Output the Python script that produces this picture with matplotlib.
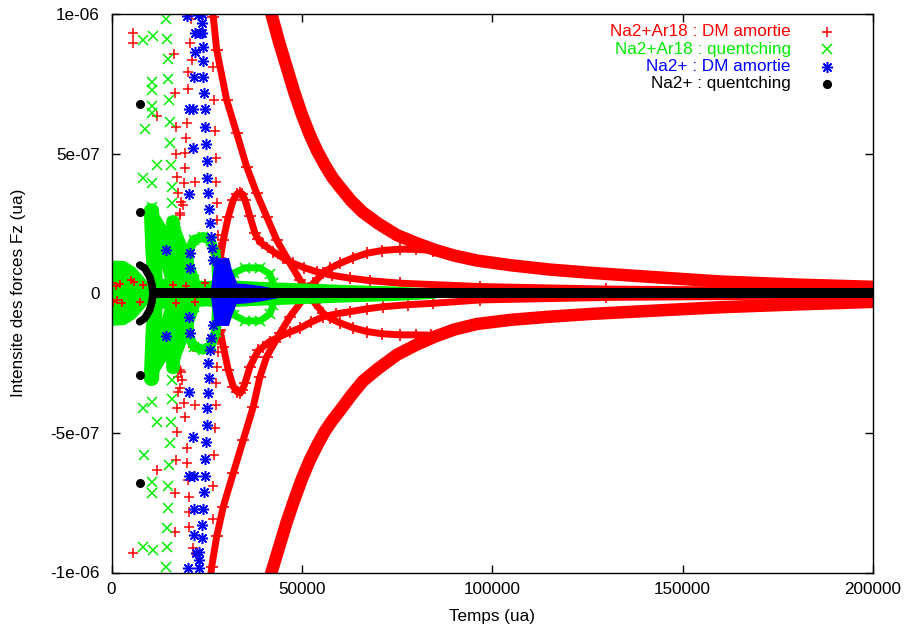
import numpy as np
import matplotlib.pyplot as plt
from matplotlib.ticker import FuncFormatter

plt.rcParams['font.family'] = ['Liberation Sans', 'DejaVu Sans']
plt.rcParams['font.size'] = 12.3

FZ = 1e-7  # force values below are given in units of 1e-7 ua

RED, GREEN, BLUE, BLACK = '#ff0000', '#00ee00', '#0000ff', '#000000'
ASTER = (8, 2, 0)  # gnuplot-like asterisk

# ---------------- Na2+Ar18 : DM amortie ----------------
# outer decaying branches (upper / lower)
ar_dm_outer_t = [41300, 42000, 44000, 46000, 48000, 50000, 52000, 54000, 56000, 58000,
                 60000, 63000, 66000, 70000, 75000, 80000, 85000, 90000, 96000, 105000,
                 115000, 126000, 140000, 160000, 180000, 200000]
ar_dm_outer_up = [10.4, 10.0, 9.0, 8.1, 7.2, 6.4, 5.7, 5.1, 4.6, 4.15,
                  3.8, 3.3, 2.9, 2.5, 2.08, 1.8, 1.55, 1.35, 1.17, 1.0,
                  0.85, 0.73, 0.6, 0.42, 0.31, 0.23]
ar_dm_outer_dn = [-10.4, -10.0, -9.1, -8.2, -7.4, -6.65, -6.0, -5.45, -4.95, -4.55,
                  -4.2, -3.65, -3.15, -2.7, -2.2, -1.85, -1.55, -1.3, -1.1, -0.95,
                  -0.84, -0.74, -0.64, -0.5, -0.4, -0.31]

# branch falling from the top and crossing zero
ar_dm_fall_t = [26400, 26730, 27630, 30250, 32880, 35500, 38130, 40760, 43380, 46880,
                49500, 51260, 53440, 55620, 57500, 60000, 63500, 67020, 71000, 75760,
                80000, 84000]
ar_dm_fall_v = [10.45, 9.90, 8.71, 6.92, 5.73, 4.53, 3.58, 2.74, 1.91, 1.07,
                0.48, 0.12, -0.36, -0.72, -0.90, -1.06, -1.24, -1.37, -1.45, -1.49,
                -1.49, -1.50]

# branch rising from the bottom and crossing zero
ar_dm_rise_t = [25840, 26310, 27630, 29360, 31980, 34610, 37240, 39000, 40760, 44250,
                46880, 49500, 51260, 52990, 55620, 57500, 60000, 63500, 67020, 71000,
                75760, 80000, 84510]
ar_dm_rise_v = [-10.4, -9.79, -8.71, -7.64, -6.44, -5.25, -4.06, -2.99, -2.27, -1.43,
                -0.84, -0.36, -0.06, 0.36, 0.72, 0.90, 1.07, 1.27, 1.43, 1.53,
                1.58, 1.57, 1.53]

# bump above zero and trough below zero
ar_dm_bump_t = [28490, 29360, 30670, 31980, 32900, 33740, 34400, 35060, 36370, 37680,
                38500, 39440, 42490, 45000, 47740, 50500, 53890, 58000, 62630, 68000,
                75760, 96770, 130000, 200000]
ar_dm_bump_v = [1.18, 1.91, 2.74, 3.34, 3.55, 3.60, 3.55, 3.34, 2.75, 2.15,
                1.95, 1.79, 1.49, 1.27, 1.07, 0.92, 0.77, 0.64, 0.54, 0.45,
                0.36, 0.24, 0.15, 0.08]
ar_dm_trough_t = [28490, 29360, 30670, 31980, 32900, 33740, 34400, 35060, 36370, 37680,
                  38600, 39860, 41500, 44250, 47000, 49500, 52500, 55620, 59000, 62630,
                  67000, 71380, 78000, 84510, 96770, 130000, 200000]
ar_dm_trough_v = [-1.31, -1.91, -2.75, -3.34, -3.52, -3.58, -3.45, -3.22, -2.63, -2.27,
                  -2.05, -1.91, -1.73, -1.55, -1.38, -1.25, -1.03, -0.84, -0.74, -0.66,
                  -0.56, -0.48, -0.41, -0.36, -0.24, -0.15, -0.08]

# isolated points of the early oscillations
ar_dm_pts_t = [5725, 5725, 16410, 20610, 21060, 20170, 16680, 20170, 12030, 16940,
               19910, 19560, 16940, 19300, 19300, 17280, 19040, 21930, 17540, 18170,
               17990, 21660, 20750, 18780, 17910,
               26650, 26920, 27180, 27440, 27440, 27630, 27780, 28050, 28310, 28680,
               28490, 28050, 28050, 27630, 27440, 27440, 27180, 26920, 26730, 26730,
               17990, 18430, 17540, 19120, 21930, 17280, 19300, 17120, 19910, 16940,
               19910, 12030, 20170, 16680, 20430, 20430, 20430, 16680, 21480, 22370,
               5725, 17460, 18330, 17910, 21400]
ar_dm_pts_v = [9.31, 8.95, 8.56, 8.95, 8.35, 7.93, 7.16, 7.30, 6.35, 5.96,
               6.11, 5.57, 4.98, 5.01, 4.48, 4.17, 3.96, 4.00, 3.58, 3.28,
               2.86, 1.91, 9.82, 3.16, 2.80,
               8.11, 6.92, 5.81, 4.83, 4.00, 3.24, 2.62, 2.09, 1.67, 1.25,
               -1.37, -1.67, -2.09, -2.63, -3.22, -4.00, -4.83, -5.79, -6.92, -8.09,
               -2.75, -3.10, -3.52, -3.94, -4.00, -4.12, -4.42, -4.96, -5.55, -5.97,
               -6.09, -6.33, -6.68, -7.14, -7.28, -7.82, -8.36, -8.54, -9.13, -9.37,
               -9.31, -2.99, -2.81, -3.40, -1.91]

# small values near zero at the start
ar_dm_zero_t = [130, 1180, 2230, 390, 1440, 2760, 5120, 5910, 7480, 8270, 16150, 16940,
                19500, 22000, 24500]
ar_dm_zero_v = [0.37, 0.26, 0.33, -0.31, -0.24, -0.35, 0.48, 0.40, -0.31, 0.30, 0.30, -0.35,
                0.25, -0.30, 0.35]

# ---------------- Na2+Ar18 : quentching ----------------
ar_q_core_t = [0, 3400, 6000, 8300, 10000]
ar_q_core_hi = [1.19, 1.17, 0.95, 0.60, 0.30]
ar_q_core_lo = [-1.15, -1.12, -0.90, -0.55, -0.25]

ar_q_mid_t = [10000, 15000, 20000, 25000, 28000]
ar_q_mid_amp = [0.50, 0.55, 0.50, 0.45, 0.50]

ar_q_col1_t = [10500, 10900, 11690, 10900, 10500]
ar_q_col1_v = [2.95, 1.55, 0.0, -1.55, -3.05]
ar_q_col2_t = [16150, 16410, 16940, 16410, 16150]
ar_q_col2_v = [2.55, 1.37, 0.0, -1.37, -2.65]
ar_q_slant_t = [11200, 13300, 15800]
ar_q_slant_v = [2.5, 1.6, 0.4]
ar_q_cross_t = [10900, 14000, 17500, 20000]
ar_q_cross_v = [2.9, 2.2, 1.2, 0.3]
ar_q_diag_t = [16940, 19300, 21660]
ar_q_diag_v = [2.19, 1.37, 0.48]
ar_q_arch_t = [20350, 20350, 21660, 24030, 26130, 27440, 27710]
ar_q_arch_v = [0.30, 1.55, 1.91, 2.02, 1.87, 1.37, 0.30]

ar_q_loop_t = [30590, 32170, 35060, 38990, 41620, 42410, 41100]
ar_q_loop_up = [0.23, 0.73, 0.91, 0.91, 0.69, 0.37, 0.19]
ar_q_loop_dn = [-0.24, -0.78, -0.99, -0.99, -0.74, -0.42, -0.20]

ar_q_tail_t = [28000, 40000, 50000, 62000, 74000, 85000]
ar_q_tail_amp = [0.50, 0.42, 0.37, 0.31, 0.26, 0.18]

ar_q_pts_t = [14310, 8190, 10820, 14500, 14920, 10560, 10560, 14920, 15100, 10560,
              10560, 8800, 15360, 15360, 12030, 15550, 8350, 10560, 15810, 15810, 10560,
              10560, 15810, 8350, 10560, 15810, 12030, 15550, 15360, 8530, 15180,
              10560, 10560, 14920, 14920, 14500, 8190, 10980, 14500, 14310]
ar_q_pts_v = [9.81, 9.07, 9.21, 9.09, 8.38, 7.58, 7.28, 7.66, 6.92, 6.71,
              6.44, 5.87, 6.14, 5.37, 4.59, 4.59, 4.12, 3.94, 3.82, 3.24, 3.10,
              -3.04, -3.10, -4.12, -3.88, -3.80, -4.60, -4.60, -5.37, -5.81, -6.15,
              -6.75, -7.16, -6.92, -7.70, -8.41, -9.07, -9.19, -9.09, -9.79]

# ---------------- Na2+ : DM amortie ----------------
na_dm_block_t = [26130, 27180, 30860, 31640, 32960, 32960, 31640, 30860, 27180, 26130]
na_dm_block_v = [0.12, 1.26, 1.26, 0.83, 0.37, -0.35, -0.81, -1.17, -1.17, -0.12]
na_dm_tail_t = [31000, 35000, 39000, 44000]
na_dm_tail_amp = [0.38, 0.35, 0.28, 0.15]

na_dm_pts_t = [23690, 23690, 23690, 23950, 23950, 24110, 24290, 24470, 24550, 24820,
               25000, 25160, 25420, 25600, 25870, 26130, 26310, 26580,
               19910, 22790, 21930, 23240, 21930, 21660, 20430, 21480, 21320, 20430,
               20610, 20610, 14310,
               26580, 26130, 25870, 25420, 25530, 25420, 25160, 25000, 24820, 24550,
               24550, 24290, 23950, 23690, 23690, 23060, 23060, 23060,
               20430, 20610, 14310, 20430, 21320, 20430, 21660, 21660, 21660, 22190, 20170]
na_dm_pts_v = [9.99, 9.67, 9.31, 8.83, 8.32, 7.76, 7.16, 6.59, 5.96, 5.33,
               4.74, 4.14, 3.58, 3.02, 2.53, 2.03, 1.61, 1.19,
               9.93, 9.96, 9.31, 9.31, 8.65, 7.76, 6.59, 6.59, 5.19, 3.54,
               1.43, 0.90, 1.55,
               -1.13, -1.61, -2.03, -2.48, -3.04, -3.56, -4.12, -4.72, -5.31, -5.94,
               -6.54, -7.10, -7.73, -8.30, -8.77, -9.25, -9.55, -9.85,
               -0.86, -1.41, -1.52, -3.52, -5.16, -6.54, -6.54, -7.73, -8.65, -9.31, -9.85]

# ---------------- Na2+ : quentching ----------------
na_q_dot_t = [7480, 7480, 7480, 7480]
na_q_dot_v = [6.78, 2.91, -2.92, -6.79]
na_q_arc_t = [7410, 8720, 10030, 10640, 10900, 10640, 10030, 8720, 7410]
na_q_arc_v = [1.01, 0.90, 0.59, 0.30, 0.0, -0.30, -0.60, -0.90, -1.02]
na_q_line_t = [10900, 200000]
na_q_line_v = [0.0, 0.0]

legend_labels = ['Na2+Ar18 : DM amortie', 'Na2+Ar18 : quentching',
                 'Na2+ : DM amortie', 'Na2+ : quentching']


def fz(v):
    return np.asarray(v, dtype=float) * FZ


fig = plt.figure(figsize=(9.08, 6.31), dpi=100)
ax = fig.add_axes([111.5 / 908, 58.5 / 631, 761.5 / 908, 558.5 / 631])

# red series
band = dict(color=RED, lw=9.0, solid_capstyle='butt', solid_joinstyle='round', zorder=1)
ax.plot(ar_dm_outer_t, fz(ar_dm_outer_up), **band)
ax.plot(ar_dm_outer_t, fz(ar_dm_outer_dn), **band)
thin = dict(color=RED, lw=5.0, marker='+', ms=8, mew=1.2,
            solid_capstyle='butt', solid_joinstyle='round', zorder=1.2)
ax.plot(ar_dm_fall_t, fz(ar_dm_fall_v), **thin)
ax.plot(ar_dm_rise_t, fz(ar_dm_rise_v), **thin)
ax.plot(ar_dm_bump_t, fz(ar_dm_bump_v), **thin)
ax.plot(ar_dm_trough_t, fz(ar_dm_trough_v), **thin)
ax.plot(ar_dm_pts_t, fz(ar_dm_pts_v), ls='none', marker='+', ms=7, mew=1.1,
        color=RED, zorder=1.3)

# green series
ax.fill_between(ar_q_core_t, fz(ar_q_core_hi), fz(ar_q_core_lo),
                color=GREEN, lw=0, zorder=2)
ax.fill_between(ar_q_mid_t, fz(ar_q_mid_amp), -fz(ar_q_mid_amp),
                color=GREEN, lw=0, zorder=2)
ax.fill_between(ar_q_tail_t, fz(ar_q_tail_amp), -fz(ar_q_tail_amp),
                color=GREEN, lw=0, zorder=2)
strand = dict(color=GREEN, marker='x', ms=7, mew=1.2,
              solid_capstyle='round', solid_joinstyle='round', zorder=2.1)
ax.plot(ar_q_col1_t, fz(ar_q_col1_v), lw=11, **strand)
ax.plot(ar_q_col2_t, fz(ar_q_col2_v), lw=10, **strand)
for sign in (1, -1):
    ax.plot(ar_q_slant_t, sign * fz(ar_q_slant_v), lw=8, **strand)
    ax.plot(ar_q_cross_t, sign * fz(ar_q_cross_v), lw=6, **strand)
    ax.plot(ar_q_diag_t, sign * fz(ar_q_diag_v), lw=8, **strand)
    ax.plot(ar_q_arch_t, sign * fz(ar_q_arch_v), lw=7, **strand)
ax.plot(ar_q_loop_t, fz(ar_q_loop_up), lw=5, **strand)
ax.plot(ar_q_loop_t, fz(ar_q_loop_dn), lw=5, **strand)
ax.plot(ar_q_pts_t, fz(ar_q_pts_v), ls='none', marker='x', ms=6.5, mew=1.1,
        color=GREEN, zorder=2.2)
ax.plot(ar_dm_zero_t, fz(ar_dm_zero_v), ls='none', marker='+', ms=6, mew=1.3,
        color=RED, zorder=2.3)

# blue series
ax.fill(na_dm_block_t, fz(na_dm_block_v), color=BLUE, lw=0, zorder=3)
ax.fill_between(na_dm_tail_t, fz(na_dm_tail_amp), -fz(na_dm_tail_amp),
                color=BLUE, lw=0, zorder=3)
ax.plot(na_dm_pts_t, fz(na_dm_pts_v), ls='none', marker=ASTER, ms=8, mew=1.1,
        color=BLUE, zorder=3.1)

# black series
ax.plot(na_q_line_t, fz(na_q_line_v), color=BLACK, lw=7.2,
        solid_capstyle='butt', zorder=4)
ax.plot(na_q_arc_t, fz(na_q_arc_v), color=BLACK, lw=5.5,
        solid_capstyle='round', solid_joinstyle='round', zorder=4)
ax.plot(na_q_dot_t, fz(na_q_dot_v), ls='none', marker='o', ms=5.5,
        color=BLACK, zorder=4)

ax.set_xlim(0, 200000)
ax.set_ylim(-1e-6, 1e-6)
ax.set_xticks([0, 50000, 100000, 150000, 200000])
ax.set_yticks([-1e-6, -5e-7, 0, 5e-7, 1e-6])
ax.xaxis.set_major_formatter(FuncFormatter(lambda v, p: '%d' % v))
ax.yaxis.set_major_formatter(FuncFormatter(lambda v, p: '%g' % v))
ax.tick_params(direction='in', length=5.5, width=1.0, top=True, right=True,
               labelsize=12.3, colors=BLACK)
ax.tick_params(axis='y', pad=8.6)
ax.tick_params(axis='x', pad=7.0)
for sp in ax.spines.values():
    sp.set_linewidth(1.0)
    sp.set_color(BLACK)
    sp.set_zorder(10)

ax.set_xlabel('Temps (ua)', fontsize=12.3)
ax.set_ylabel('Intensite des forces Fz (ua)', fontsize=12.3)
ax.xaxis.set_label_coords(0.5, -0.078)
ax.xaxis.label.set_va('center')
ax.yaxis.set_label_coords(-0.1224, 0.5)
ax.yaxis.label.set_va('center')

# key in the top right corner, text right-aligned left of the symbol
key_colors = [RED, GREEN, BLUE, BLACK]
key_markers = ['+', 'x', ASTER, 'o']
key_sizes = [7, 6.5, 8, 5.5]
key_rows = [0.9678, 0.9368, 0.9058, 0.8748]
for lab, col, mk, ms, y in zip(legend_labels, key_colors, key_markers, key_sizes, key_rows):
    ax.text(0.8923, y, lab, color=col, ha='right', va='center',
            fontsize=12.3, transform=ax.transAxes, zorder=11)
    ax.plot([0.9396], [y], ls='none', marker=mk, ms=ms, mew=1.1, color=col,
            transform=ax.transAxes, clip_on=False, zorder=11)

fig.savefig('out.png', dpi=100)
